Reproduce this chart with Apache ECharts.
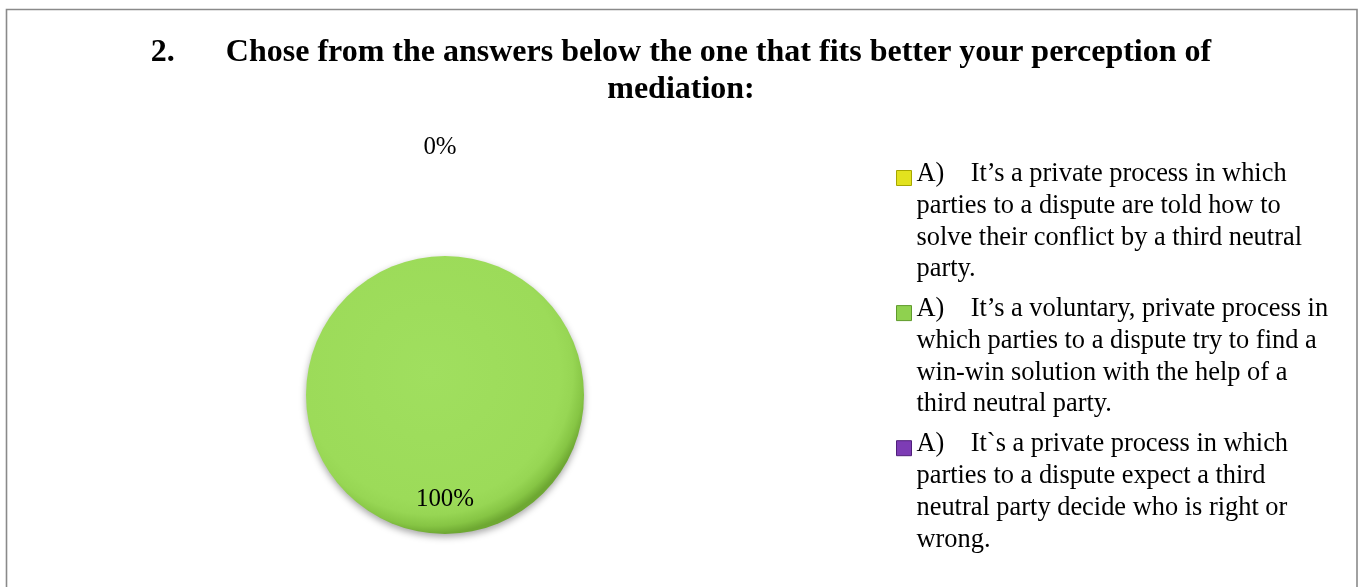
<!DOCTYPE html>
<html>
<head>
<meta charset="utf-8">
<script src="https://cdn.jsdelivr.net/npm/echarts@6/dist/echarts.min.js"></script>
<style>
html,body{margin:0;padding:0;background:#fff;}
#chart{width:1362px;height:587px;}
</style>
</head>
<body>
<div id="chart"></div>
<script>
const titleNumber = '2.';
const titleText = 'Chose from the answers below the one that fits better your perception of\nmediation:';
const categories = [
  'A)    It’s a private process in which parties to a dispute are told how to solve their conflict by a third neutral party.',
  'A)    It’s a voluntary, private process in which parties to a dispute try to find a win-win solution with the help of a third neutral party.',
  'A)    It`s a private process in which parties to a dispute expect a third neutral party decide who is right or wrong.'
];
const shares = [0, 100, 0];
const sliceColors = ['#e6e620', null, '#7a36b0'];
const markerColors = ['#e2e21e', '#8fd14f', '#7d3cb5'];
const markerBorders = ['#a6a600', '#5f9a2c', '#4f1f7a'];

const serif = "'Liberation Serif','Times New Roman',serif";
const LEG_FS = 26.4;
const LEG_W = 422;
const greenFill = {
  type: 'radial', x: 0.45, y: 0.42, r: 0.58,
  colorStops: [
    {offset: 0, color: '#a0df5f'},
    {offset: 0.8, color: '#9cdb59'},
    {offset: 0.88, color: '#97d654'},
    {offset: 0.95, color: '#86c544'},
    {offset: 1, color: '#6ea832'}
  ]
};

// word wrap measured on whole lines (keeps kerning consistent with drawing)
const mctx = document.createElement('canvas').getContext('2d');
mctx.font = LEG_FS + 'px ' + serif;
function wrapText(text, maxW) {
  const toks = text.split(' ');
  const lines = [];
  let line = null;
  for (const t of toks) {
    if (line === null) { line = t; continue; }
    const cand = line + ' ' + t;
    if (t !== '' && mctx.measureText(cand).width > maxW) {
      lines.push(line);
      line = t;
    } else {
      line = cand;
    }
  }
  if (line !== null) lines.push(line);
  return lines.join('\n');
}

const LH = 31.7;           // legend line height
const IH = LH * 4;         // legend item block height (4 lines)
const markerPath = 'path://M0 ' + (IH) + ' L0 ' + (IH) + ' M0 12 L15 12 L15 27 L0 27 Z M0 0 L0 0';

const chart = echarts.init(document.getElementById('chart'), null, {renderer: 'canvas'});
chart.setOption({
  backgroundColor: '#ffffff',
  animation: false,
  title: {
    text: '{n|' + titleNumber + '}{g|}' + titleText,
    left: 'center',
    top: 34,
    padding: 0,
    textStyle: {
      fontFamily: serif, fontWeight: 'bold', fontSize: 32, lineHeight: 37, color: '#000',
      rich: {
        n: {fontFamily: serif, fontWeight: 'bold', fontSize: 32, lineHeight: 37, color: '#000'},
        g: {width: 51, fontSize: 32, lineHeight: 37}
      }
    }
  },
  graphic: [{
    type: 'rect', silent: true, z: -1,
    shape: {x: 6.5, y: 9.5, width: 1350.5, height: 620},
    style: {fill: 'none', stroke: '#8a8a8a', lineWidth: 1.6}
  }],
  legend: {
    orient: 'vertical',
    left: 896, top: 158,
    padding: 0,
    itemGap: 7.3,
    itemWidth: 15,
    itemHeight: IH,
    icon: markerPath,
    selectedMode: false,
    formatter: function (name) { return wrapText(name, LEG_W); },
    textStyle: {
      fontFamily: serif, fontSize: LEG_FS, lineHeight: LH, color: '#000'
    },
    data: categories.map((c, i) => ({
      name: c,
      itemStyle: {color: markerColors[i], borderColor: markerBorders[i], borderWidth: 1}
    }))
  },
  series: [{
    type: 'pie',
    center: [445, 395],
    radius: 139,
    startAngle: 90,
    clockwise: true,
    avoidLabelOverlap: false,
    minShowLabelAngle: 0,
    stillShowZeroSum: true,
    itemStyle: {borderWidth: 0, shadowBlur: 7, shadowOffsetY: 3, shadowColor: 'rgba(0,0,0,0.35)'},
    label: {
      show: true,
      formatter: '{d}%',
      fontFamily: serif, fontSize: 24.9, color: '#000'
    },
    labelLine: {show: false, length: 109, length2: 0},
    labelLayout: function (p) {
      return p.dataIndex === 1 ? {dy: 32} : {align: 'center'};
    },
    emphasis: {disabled: true},
    data: categories.map((c, i) => ({
      name: c,
      value: shares[i],
      itemStyle: {color: i === 1 ? greenFill : sliceColors[i]},
      label: i === 1 ? {position: 'inside'} : {position: 'outside', show: i === 0}
    }))
  }]
});
</script>
</body>
</html>
